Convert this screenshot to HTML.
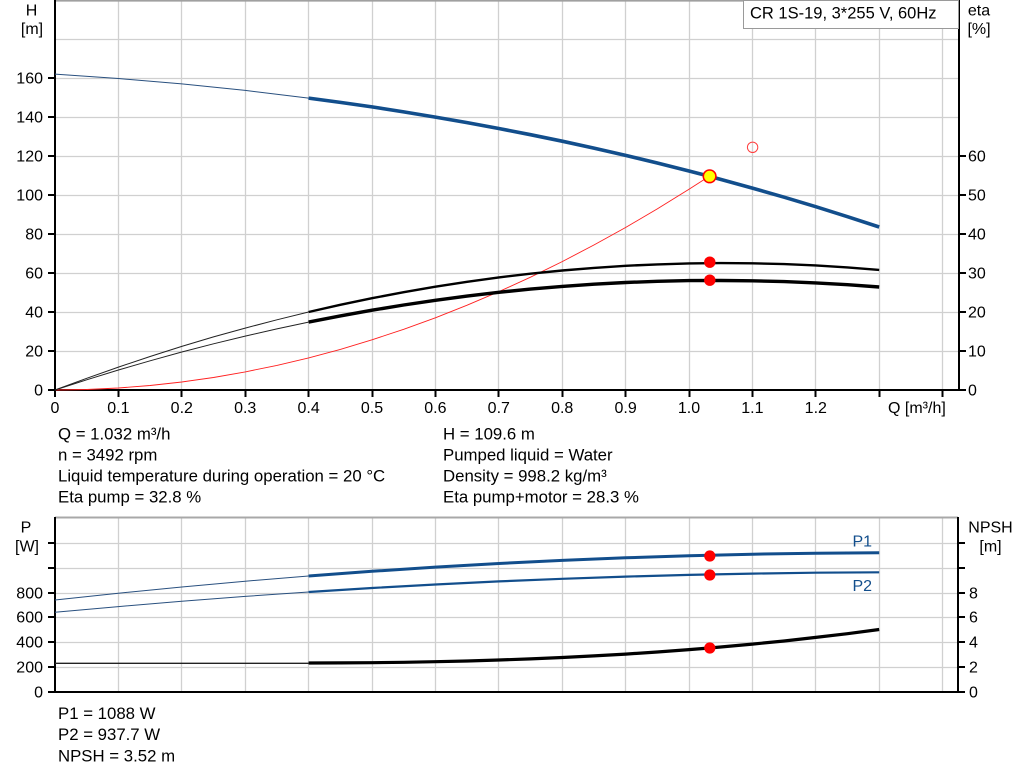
<!DOCTYPE html>
<html><head><meta charset="utf-8"><style>
html,body{margin:0;padding:0;background:#fff;}
svg{display:block;font-family:"Liberation Sans",Arial,sans-serif;}
polyline{stroke-linejoin:round;stroke-linecap:butt;}
</style></head><body>
<svg width="1024" height="781" viewBox="0 0 1024 781" xmlns="http://www.w3.org/2000/svg">
<rect width="1024" height="781" fill="#fff"/>
<!-- TOP PLOT grid -->
<g stroke="#d0d0d0" stroke-width="1.3" fill="none">
<path d="M118.5 0V390M181.5 0V390M245.5 0V390M308.5 0V390M372.5 0V390M435.5 0V390M498.5 0V390M562.5 0V390M625.5 0V390M689.5 0V390M752.5 0V390M815.5 0V390M879.5 0V390M942.5 0V390"/>
<path d="M55 351.5H959M55 312.5H959M55 273.5H959M55 234.5H959M55 195.5H959M55 156.5H959M55 117.5H959M55 78.5H959M55 39.5H959"/>
</g>
<line x1="55" y1="0.8" x2="959" y2="0.8" stroke="#a0a0a0" stroke-width="1.6"/>
<!-- axes -->
<g stroke="#000" stroke-width="2" fill="none">
<line x1="55" y1="0" x2="55" y2="391"/>
<line x1="959" y1="0" x2="959" y2="391"/>
<line x1="54" y1="390" x2="960" y2="390"/>
<path d="M48 390H55M48 351H55M48 312H55M48 273H55M48 234H55M48 195H55M48 156H55M48 117H55M48 78H55"/>
<path d="M959 390H966M959 351H966M959 312H966M959 273H966M959 234H966M959 195H966M959 156H966"/>
<path d="M55 390V397M118.5 390V397M181.5 390V397M245.5 390V397M308.5 390V397M372.5 390V397M435.5 390V397M498.5 390V397M562.5 390V397M625.5 390V397M689.5 390V397M752.5 390V397M815.5 390V397M879.5 390V397M942.5 390V397"/>
</g>
<!-- tick labels -->
<g font-size="16" fill="#000" text-anchor="end">
<text x="43" y="395.5">0</text><text x="43" y="356.5">20</text><text x="43" y="317.5">40</text><text x="43" y="278.5">60</text><text x="43" y="239.5">80</text><text x="43" y="200.5">100</text><text x="43" y="161.5">120</text><text x="43" y="122.5">140</text><text x="43" y="83.5">160</text>
</g>
<g font-size="16" fill="#000" text-anchor="start">
<text x="968" y="395.5">0</text><text x="968" y="356.5">10</text><text x="968" y="317.5">20</text><text x="968" y="278.5">30</text><text x="968" y="239.5">40</text><text x="968" y="200.5">50</text><text x="968" y="161.5">60</text>
</g>
<g font-size="16" fill="#000" text-anchor="middle">
<text x="55" y="413">0</text><text x="118.4" y="413">0.1</text><text x="181.8" y="413">0.2</text><text x="245.2" y="413">0.3</text><text x="308.6" y="413">0.4</text><text x="372" y="413">0.5</text><text x="435.4" y="413">0.6</text><text x="498.8" y="413">0.7</text><text x="562.2" y="413">0.8</text><text x="625.6" y="413">0.9</text><text x="689" y="413">1.0</text><text x="752.4" y="413">1.1</text><text x="815.8" y="413">1.2</text>
</g>
<text x="888" y="413" font-size="16" fill="#000">Q [m³/h]</text>
<g font-size="16" fill="#000" text-anchor="middle">
<text x="31.5" y="15.5">H</text><text x="32" y="34">[m]</text>
<text x="979" y="15.5">eta</text><text x="979" y="34">[%]</text>
</g>
<!-- title box -->
<rect x="743.5" y="0.5" width="215" height="28" fill="#fff" stroke="#9a9a9a" stroke-width="1"/>
<text x="750" y="18.5" font-size="16.5" fill="#000">CR 1S-19, 3*255 V, 60Hz</text>
<!-- system curve (red) -->
<polyline fill="none" stroke="#ff2020" stroke-width="0.9" points="55,390 86.7,389.5 118.4,388 150.1,385.5 181.8,382 213.5,377.5 245.2,371.9 276.9,365.4 308.6,357.9 340.3,349.4 372,339.8 403.7,329.3 435.4,317.8 467.1,305.2 498.8,291.7 530.5,277.2 562.2,261.6 593.9,245 625.6,227.5 657.3,208.9 689,189.3 709.3,176.3"/>
<!-- H curve -->
<polyline fill="none" stroke="#29507f" stroke-width="1" points="55,74.1 118.4,78.5 181.8,83.9 245.2,90.4 308.6,98.1"/>
<polyline fill="none" stroke="#124e8c" stroke-width="3.6" points="308.6,98.1 340.3,102.4 372,106.9 403.7,111.9 435.4,117.1 467.1,122.6 498.8,128.5 530.5,134.7 562.2,141.2 593.9,148.1 625.6,155.4 657.3,163 689,171 709.3,176.3 752.4,188.1 784.1,197.2 815.8,206.7 847.5,216.7 879.2,227"/>
<!-- eta pump -->
<polyline fill="none" stroke="#222" stroke-width="1" points="55,390 86.7,378.3 118.4,367.1 150.1,356.5 181.8,346.4 213.5,336.9 245.2,328.1 276.9,319.8 308.6,312"/>
<polyline fill="none" stroke="#000" stroke-width="2.4" points="308.6,312 340.3,304.8 372,298.2 403.7,292.2 435.4,286.7 467.1,281.8 498.8,277.4 530.5,273.7 562.2,270.5 593.9,267.9 625.6,265.8 657.3,264.4 689,263.4 720.7,263.1 752.4,263.3 784.1,264.1 815.8,265.4 847.5,267.4 879.2,269.9"/>
<!-- eta total -->
<polyline fill="none" stroke="#222" stroke-width="1" points="55,390 86.7,379.8 118.4,370 150.1,360.8 181.8,352 213.5,343.8 245.2,336.1 276.9,328.9 308.6,322.1"/>
<polyline fill="none" stroke="#000" stroke-width="3.4" points="308.6,322.1 340.3,315.9 372,310.2 403.7,305 435.4,300.3 467.1,296.1 498.8,292.3 530.5,289.1 562.2,286.4 593.9,284.2 625.6,282.5 657.3,281.3 689,280.6 720.7,280.5 752.4,280.8 784.1,281.6 815.8,282.9 847.5,284.7 879.2,287"/>
<!-- markers -->
<circle cx="752.6" cy="147.3" r="5.2" fill="none" stroke="#ff4040" stroke-width="1"/>
<circle cx="709.8" cy="262.2" r="5.7" fill="#ff0000"/>
<circle cx="709.8" cy="280.2" r="5.7" fill="#ff0000"/>
<circle cx="709.6" cy="176.3" r="6.3" fill="#ffff00" stroke="#ff0000" stroke-width="1.6"/>
<!-- info text -->
<g font-size="16.8" fill="#000">
<text x="58" y="439.5">Q = 1.032 m³/h</text>
<text x="58" y="460.5">n = 3492 rpm</text>
<text x="58" y="481.5">Liquid temperature during operation = 20 °C</text>
<text x="58" y="502.5">Eta pump = 32.8 %</text>
<text x="443" y="439.5">H = 109.6 m</text>
<text x="443" y="460.5">Pumped liquid = Water</text>
<text x="443" y="481.5">Density = 998.2 kg/m³</text>
<text x="443" y="502.5">Eta pump+motor = 28.3 %</text>
</g>
<!-- BOTTOM PLOT grid -->
<g stroke="#d0d0d0" stroke-width="1.3" fill="none">
<path d="M118.5 517V692M181.5 517V692M245.5 517V692M308.5 517V692M372.5 517V692M435.5 517V692M498.5 517V692M562.5 517V692M625.5 517V692M689.5 517V692M752.5 517V692M815.5 517V692M879.5 517V692M942.5 517V692"/>
<path d="M55 543.5H958M55 568.5H958M55 593.5H958M55 617.5H958M55 642.5H958M55 667.5H958"/>
</g>
<line x1="55" y1="517.5" x2="958" y2="517.5" stroke="#a8a8a8" stroke-width="2"/>
<g stroke="#000" stroke-width="2" fill="none">
<line x1="55" y1="517" x2="55" y2="693"/>
<line x1="958" y1="517" x2="958" y2="693"/>
<line x1="54" y1="692" x2="959" y2="692"/>
<path d="M48 692H55M48 667H55M48 642H55M48 617H55M48 593H55M48 568H55M48 543H55"/>
<path d="M958 692H965M958 667H965M958 642H965M958 617H965M958 593H965M958 568H965M958 543H965"/>
</g>
<g font-size="16" fill="#000" text-anchor="end">
<text x="43" y="697.5">0</text><text x="43" y="672.5">200</text><text x="43" y="647.5">400</text><text x="43" y="622.5">600</text><text x="43" y="598.5">800</text>
</g>
<g font-size="16" fill="#000" text-anchor="start">
<text x="969" y="697.5">0</text><text x="969" y="672.5">2</text><text x="969" y="647.5">4</text><text x="969" y="622.5">6</text><text x="969" y="598.5">8</text>
</g>
<g font-size="16" fill="#000" text-anchor="middle">
<text x="26" y="532.7">P</text><text x="27" y="551.5">[W]</text>
<text x="990.5" y="532.7">NPSH</text><text x="990.5" y="551.5">[m]</text>
</g>
<!-- P1 -->
<polyline fill="none" stroke="#29507f" stroke-width="1" points="55,600 118.4,593.2 181.8,586.95 245.2,581.2 308.6,576"/>
<polyline fill="none" stroke="#124e8c" stroke-width="3" points="308.6,576 372,571.3 435.4,567.15 498.8,563.5 562.2,560.4 625.6,557.8 689,555.74 752.4,554.2 815.8,553.2 879.2,552.7"/>
<!-- P2 -->
<polyline fill="none" stroke="#29507f" stroke-width="1" points="55,612.3 118.4,606.6 181.8,601.3 245.2,596.4 308.6,592"/>
<polyline fill="none" stroke="#124e8c" stroke-width="2.2" points="308.6,592 372,588 435.4,584.5 498.8,581.4 562.2,578.8 625.6,576.6 689,574.9 752.4,573.6 815.8,572.7 879.2,572.3"/>
<!-- NPSH -->
<polyline fill="none" stroke="#222" stroke-width="1.3" points="55,663.3 308.6,663.3"/>
<polyline fill="none" stroke="#000" stroke-width="3.2" points="308.6,663 340.3,662.9 372,662.7 403.7,662.3 435.4,661.7 467.1,661 498.8,660 530.5,658.9 562.2,657.5 593.9,655.9 625.6,654.1 657.3,652 689,649.6 709.3,648 720.7,647 752.4,644.1 784.1,641 815.8,637.4 847.5,633.7 879.2,629.5"/>
<text x="852.5" y="546.7" font-size="16" fill="#124e8c">P1</text>
<text x="852.5" y="591" font-size="16" fill="#124e8c">P2</text>
<circle cx="709.8" cy="556" r="5.6" fill="#ff0000"/>
<circle cx="709.8" cy="575" r="5.6" fill="#ff0000"/>
<circle cx="709.8" cy="648" r="5.6" fill="#ff0000"/>
<g font-size="16.8" fill="#000">
<text x="58" y="719">P1 = 1088 W</text>
<text x="58" y="740">P2 = 937.7 W</text>
<text x="58" y="761.5">NPSH = 3.52 m</text>
</g>
</svg>
</body></html>
